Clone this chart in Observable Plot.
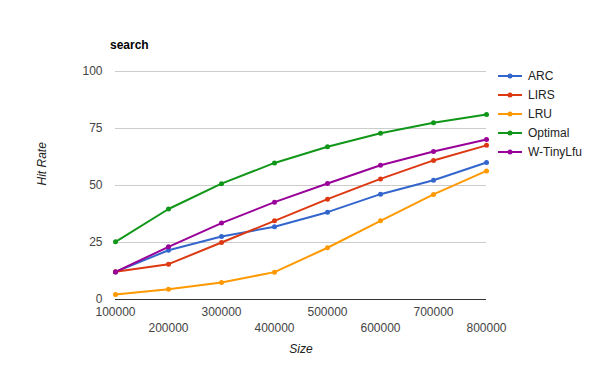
<!DOCTYPE html>
<html>
<head>
<meta charset="utf-8">
<script src="https://cdn.jsdelivr.net/npm/d3@7"></script>
<script src="https://cdn.jsdelivr.net/npm/@observablehq/plot@0.6"></script>
<style>
  html, body { margin: 0; padding: 0; background: #fff; }
  #wrap { position: relative; width: 600px; height: 371px; font-family: "Liberation Sans", Arial, sans-serif; }
  #wrap svg.plot { position: absolute; left: 0; top: 0; }
  #title { position: absolute; left: 110px; top: 38px; font-size: 12px; font-weight: bold; color: #000; line-height: 14px; }
  #legend { position: absolute; left: 498px; top: 66px; font-size: 12px; color: #222; }
  #legend .row { display: flex; align-items: center; height: 19px; }
  #legend .row span { margin-left: 6px; }
</style>
</head>
<body>
<div id="wrap">
  <div id="title">search</div>
  <div id="legend"></div>
</div>
<script>
const sizes = [100000, 200000, 300000, 400000, 500000, 600000, 700000, 800000];
const seriesNames = ["ARC", "LIRS", "LRU", "Optimal", "W-TinyLfu"];
const seriesColors = ["#3366cc", "#dc3912", "#ff9900", "#109618", "#990099"];
const arc      = [12.1, 21.6, 27.6, 31.9, 38.3, 46.2, 52.3, 60.1];
const lirs     = [12.2, 15.5, 25.0, 34.5, 44.0, 52.9, 61.0, 67.6];
const lru      = [2.2, 4.5, 7.5, 12.0, 22.7, 34.5, 46.1, 56.4];
const optimal  = [25.3, 39.7, 50.8, 59.9, 67.0, 72.9, 77.5, 81.1];
const tinylfu  = [12.1, 23.1, 33.5, 42.7, 50.9, 58.9, 64.9, 70.2];
const yTicks = [0, 25, 50, 75, 100];
const xTicksRow1 = [100000, 300000, 500000, 700000];
const xTicksRow2 = [200000, 400000, 600000, 800000];

const valuesBySeries = [arc, lirs, lru, optimal, tinylfu];
const data = [];
seriesNames.forEach((name, i) => {
  sizes.forEach((s, j) => data.push({series: name, size: s, rate: valuesBySeries[i][j]}));
});

const chart = Plot.plot({
  width: 600,
  height: 371,
  marginLeft: 115,
  marginRight: 114,
  marginTop: 71,
  marginBottom: 72,
  style: { fontFamily: '"Liberation Sans", Arial, sans-serif', fontSize: "12px", background: "transparent" },
  x: { type: "linear", domain: [100000, 800000] },
  y: { domain: [0, 100] },
  color: { domain: seriesNames, range: seriesColors },
  marks: [
    Plot.gridY(yTicks, { stroke: "#cccccc", strokeOpacity: 1 }),
    Plot.ruleY([0], { stroke: "#333333", strokeWidth: 1 }),
    Plot.axisY(yTicks, { tickSize: 0, tickPadding: 13, label: null, fill: "#444" }),
    Plot.axisX(xTicksRow1, { tickSize: 0, tickPadding: 8, label: null, fill: "#444", tickFormat: d => String(d) }),
    Plot.axisX(xTicksRow2, { tickSize: 0, tickPadding: 24, label: null, fill: "#444", tickFormat: d => String(d) }),
    Plot.line(data, { x: "size", y: "rate", z: "series", stroke: "series", strokeWidth: 2 }),
    Plot.dot(data, { x: "size", y: "rate", fill: "series", r: 2.5 }),
    Plot.text(["Size"], { frameAnchor: "bottom", dy: 53, fontStyle: "italic", fill: "#222", fontSize: 12 }),
    Plot.text(["Hit Rate"], { frameAnchor: "left", dx: -73, rotate: -90, fontStyle: "italic", fill: "#222", fontSize: 12 })
  ]
});
chart.classList.add("plot");
document.getElementById("wrap").appendChild(chart);

const legend = document.getElementById("legend");
seriesNames.forEach((name, i) => {
  const row = document.createElement("div");
  row.className = "row";
  row.innerHTML = `<svg width="24" height="10"><line x1="0" x2="24" y1="5" y2="5" stroke="${seriesColors[i]}" stroke-width="2"/><circle cx="12" cy="5" r="2.5" fill="${seriesColors[i]}"/></svg><span>${name}</span>`;
  legend.appendChild(row);
});
</script>
</body>
</html>
